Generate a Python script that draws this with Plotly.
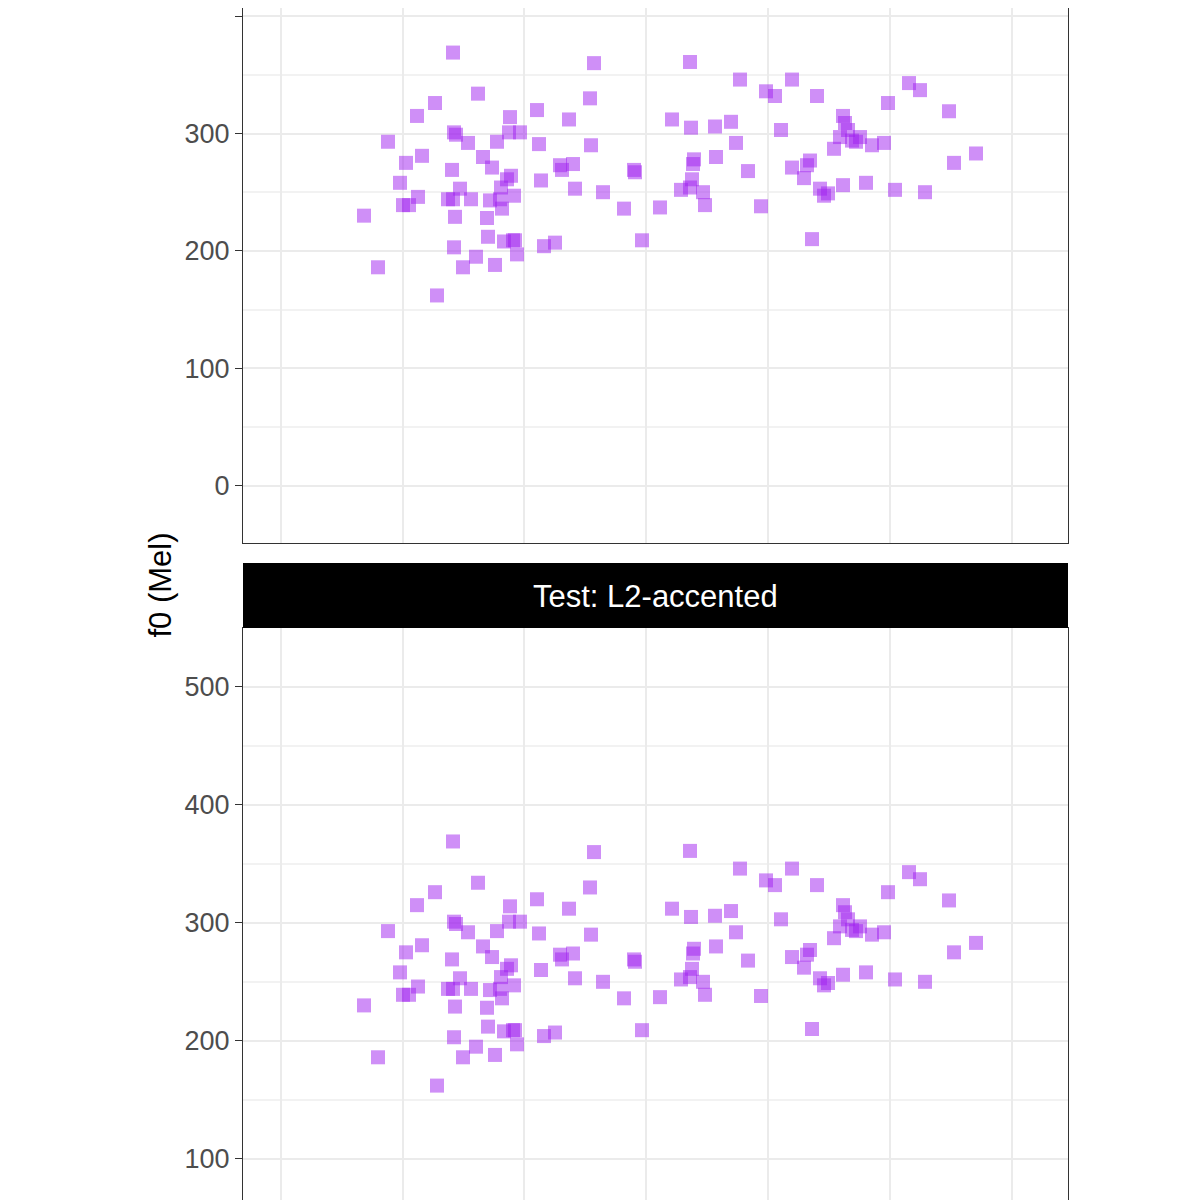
import plotly.graph_objects as go

# x in arbitrary time units, y in Mel
x = [3.64,3.78,3.88,4.00,4.06,4.03,4.09,4.17,4.18,4.22,4.35,4.37,4.48,4.52,4.53,4.54,4.56,4.55,4.54,4.53,
     4.60,4.63,4.68,4.71,4.76,4.78,4.83,4.87,4.88,4.90,4.92,4.95,4.97,5.00,5.01,5.02,5.04,5.07,5.09,5.10,
     5.11,5.14,5.15,5.13,5.17,5.20,5.37,5.39,5.41,5.44,5.55,5.60,5.62,5.69,5.73,5.75,5.90,5.91,5.94,6.03,
     6.24,6.34,6.35,6.42,6.60,6.72,6.81,6.90,6.91,6.92,6.93,6.94,6.90,7.03,7.05,7.15,7.16,7.31,7.36,7.40,
     7.48,7.61,7.66,7.75,7.81,7.92,7.92,8.04,8.07,8.10,8.12,8.17,8.20,8.24,8.28,8.34,8.40,8.43,8.45,8.43,
     8.48,8.52,8.56,8.60,8.66,8.72,8.84,8.88,8.95,9.09,9.20,9.25,9.49,9.54,9.76]
f0 = [230,186,293,258,275,239,239,315,246,281,326,162,244,269,369,301,299,229,203,244,
      253,186,292,244,195,334,280,228,212,243,271,188,293,244,254,236,208,261,301,314,
      264,247,209,209,197,301,320,291,260,204,207,273,269,312,274,253,330,290,360,250,
      236,269,267,209,237,312,252,361,305,261,274,278,254,250,239,306,280,310,292,346,
      268,238,336,332,303,346,271,262,273,277,210,332,253,247,249,287,297,315,309,256,
      303,294,293,297,258,290,292,326,252,343,337,250,319,275,283]

x_grid = [2.81, 4.03, 5.24, 6.46, 7.68, 8.90, 10.12]
panels = [("y", [-49, 407], [0, 100, 200, 300, 400]),
          ("y2", [65, 550], [100, 200, 300, 400, 500])]

fig = go.Figure()
for yref, rng, ticks in panels:
    fig.add_trace(go.Scatter(
        x=x, y=f0, mode="markers", xaxis="x" if yref == "y" else "x2", yaxis=yref,
        marker=dict(symbol="square", size=14, color="rgba(160,32,240,0.5)", line_width=0),
        showlegend=False, hoverinfo="skip"))

grid = dict(gridcolor="#ebebeb", gridwidth=1.6, zeroline=False)
xdom = [235 / 1200, 1060 / 1200]
yminor = dict(dtick=50, gridcolor="#f2f2f2", tick0=0)
fig.update_layout(
    width=1200, height=1200, margin=dict(l=0, r=0, t=0, b=0),
    plot_bgcolor="white", paper_bgcolor="white",
    font=dict(family="Liberation Sans, Arial", size=27, color="#4d4d4d"),
    xaxis=dict(domain=xdom, range=[2.43, 10.68], tickvals=x_grid, showticklabels=False,
               anchor="y", showline=True, linecolor="#333333", mirror=False, **grid),
    xaxis2=dict(domain=xdom, range=[2.43, 10.68], tickvals=x_grid, showticklabels=False,
                anchor="y2", showline=True, linecolor="#333333", mirror=True, **grid),
    yaxis=dict(domain=[1 - 535 / 1200, 1], range=panels[0][1], tickvals=panels[0][2], ticks="outside",
               ticklen=7, tickcolor="#333333", minor=yminor, anchor="x",
               showline=True, linecolor="#333333", mirror=True, **grid),
    yaxis2=dict(domain=[8 / 1200, 1 - 620 / 1200], range=panels[1][1], tickvals=panels[1][2],
                ticks="outside", ticklen=7, tickcolor="#333333", minor=yminor, anchor="x2",
                showline=True, linecolor="#333333", mirror=True, **grid),
)
fig.add_shape(type="rect", xref="paper", yref="paper", x0=xdom[0], x1=xdom[1],
              y0=1 - 620 / 1200, y1=1 - 555 / 1200, fillcolor="black", line_width=0)
fig.add_annotation(text="Test: L2-accented", xref="paper", yref="paper", x=sum(xdom) / 2,
                   y=1 - 588 / 1200, showarrow=False, font=dict(color="white", size=31))
fig.add_annotation(text="f0 (Mel)", xref="paper", yref="paper", x=132 / 1200, y=1 - 577 / 1200,
                   textangle=-90, showarrow=False, font=dict(color="black", size=31))
fig.write_html("out.html")
